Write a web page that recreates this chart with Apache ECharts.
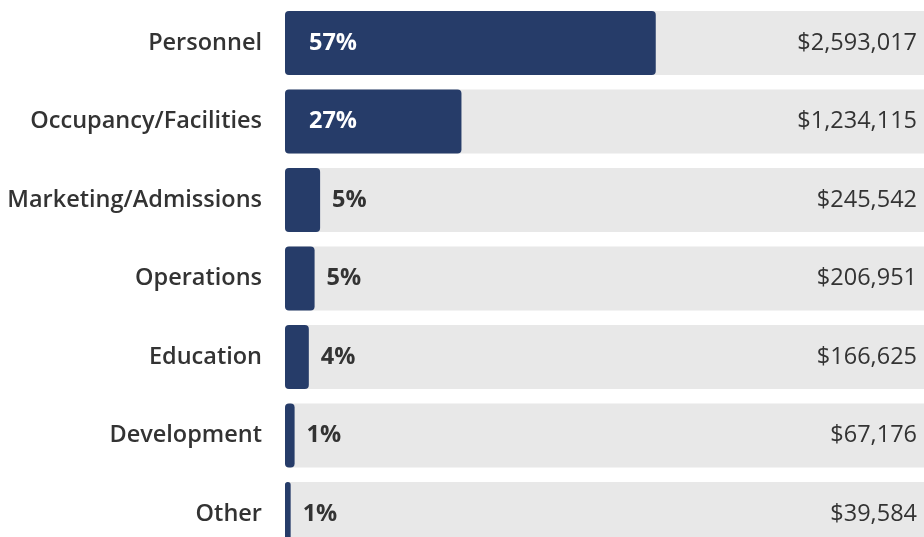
<!DOCTYPE html>
<html>
<head>
<meta charset="utf-8">
<style>
  html, body { margin: 0; padding: 0; background: #ffffff; }
  #chart { width: 924px; height: 537px; }
</style>
<script src="https://cdn.jsdelivr.net/npm/echarts@6/dist/echarts.min.js"></script>
</head>
<body>
<div id="chart"></div>
<script>
const categories = ['Personnel', 'Occupancy/Facilities', 'Marketing/Admissions', 'Operations', 'Education', 'Development', 'Other'];
const amounts = [2593017, 1234115, 245542, 206951, 166625, 67176, 39584];
const insideLabel = [true, true, false, false, false, false, false];

const total = amounts.reduce((a, b) => a + b, 0);
const fmtMoney = v => '$' + v.toLocaleString('en-US');
const fmtPct = v => Math.round(v / total * 100) + '%';

const NAVY = '#263c69';
const FONT = '"Open Sans", "Noto Sans", sans-serif';
const PAD = [4, 0, 0, 0];

const chart = echarts.init(document.getElementById('chart'));
chart.setOption({
  animation: false,
  grid: { left: 285, top: 3.75, height: 549.5, width: 651, containLabel: false, outerBoundsMode: 'none' },
  xAxis: { type: 'value', min: 0, max: total, show: false },
  yAxis: {
    type: 'category', data: categories, inverse: true,
    axisLine: { show: false }, axisTick: { show: false },
    axisLabel: { color: '#333333', fontFamily: FONT, fontSize: 23.5, fontWeight: 600, margin: 23, padding: PAD }
  },
  series: [
    {
      type: 'bar', silent: true, barWidth: 64,
      data: categories.map(() => total),
      itemStyle: { color: '#e8e8e8', borderRadius: 4 },
      label: {
        show: true, position: 'insideRight', distance: 19, padding: PAD,
        formatter: p => fmtMoney(amounts[p.dataIndex]),
        color: '#333333', fontFamily: FONT, fontSize: 23.5, fontWeight: 400
      },
      z: 1
    },
    {
      type: 'bar', barWidth: 64, barGap: '-100%',
      data: amounts.map((v, i) => ({
        value: v,
        label: insideLabel[i]
          ? { position: 'insideLeft', distance: 24, color: '#ffffff' }
          : { position: 'right', distance: 12, color: '#333333' }
      })),
      itemStyle: { color: NAVY, borderRadius: 4 },
      label: {
        show: true, formatter: p => fmtPct(p.value), padding: PAD,
        fontFamily: FONT, fontSize: 23.5, fontWeight: 700
      },
      z: 2
    }
  ]
});
</script>
</body>
</html>
